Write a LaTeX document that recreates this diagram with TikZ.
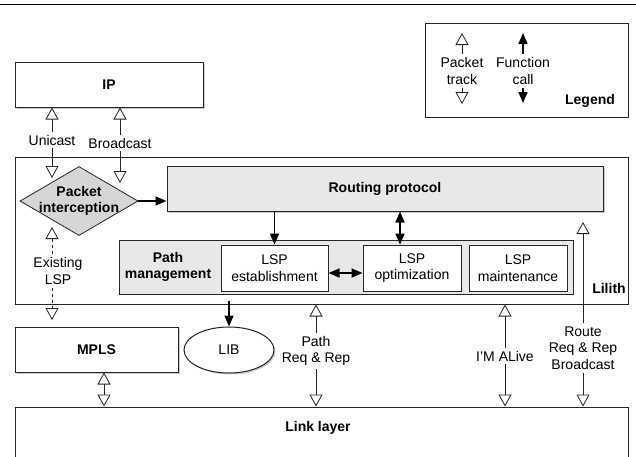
\documentclass[tikz,border=0pt]{standalone}
\usepackage{fontspec}
\setmainfont{Liberation Sans}
\usetikzlibrary{arrows.meta,shapes.geometric,shadows}
\begin{document}
\begin{tikzpicture}[x=1pt,y=-1pt,
  font=\fontsize{14}{16.5}\selectfont,
  bld/.style={font=\fontsize{14}{16.5}\selectfont\bfseries},
  box/.style={draw=black!85, line width=1pt, rectangle, inner sep=0pt},
  shad/.style={drop shadow={shadow xshift=1.5pt, shadow yshift=-1.5pt, opacity=0.35, fill=black!60}},
  lbl/.style={align=center, inner sep=3pt},
  pkt/.style={draw=black!85, line width=0.8pt, -{Triangle[open, length=12pt, width=13pt]}},
  pktb/.style={draw=black!85, line width=0.8pt, {Triangle[open, length=12pt, width=13pt]}-{Triangle[open, length=12pt, width=13pt]}},
  fn/.style={line width=1.6pt, -{Triangle[length=11pt, width=9pt]}},
  fnb/.style={line width=1.6pt, {Triangle[length=11pt, width=9pt]}-{Triangle[length=11pt, width=9pt]}},
]
\clip (0,0) rectangle (636,456);
\fill[white] (0,0) rectangle (636,456);
\coordinate (tl) at (0,4);
\coordinate (tr) at (636,4);
\draw[line width=1pt] (tl) -- (tr);

% IP
\node[box, shad, fill=white, minimum width=188pt, minimum height=45pt, bld] (ip) at (109,84.5) {IP};

% Legend
\node[box, fill=white, minimum width=203pt, minimum height=94pt] (leg) at (526.5,70) {};
\node[lbl] (ptrack) at (462,71) {Packet\\track};
\node[lbl] (fcall) at (523,71) {Function\\call};
\node[bld] (legt) at (590,101) {Legend};
\coordinate (pt1) at (462,33);
\coordinate (pt2) at (462,104);
\coordinate (fc1) at (523,33);
\coordinate (fc2) at (523,103);
\draw[pkt] (ptrack.north) -- (pt1);
\draw[pkt] (ptrack.south) -- (pt2);
\draw[fn] (fcall.north) -- (fc1);
\draw[fn] (fcall.south) -- (fc2);

% Lilith
\node[box, minimum width=613pt, minimum height=147pt] (lil) at (321.5,230.5) {};
\node[bld] (lilt) at (609,288) {Lilith};
\node[box, shad, fill=black!9, minimum width=436pt, minimum height=45pt, bld] (rp) at (385,188.5) {Routing protocol};
\node[diamond, draw=black!85, line width=0.8pt, fill=black!16, minimum width=118pt, minimum height=69pt, inner sep=0pt] (pi) at (79,201) {};
\node[lbl, bld, inner sep=0pt] (pit) at (79,201) {Packet\\interception};
\node[box, fill=black!9, minimum width=454pt, minimum height=54pt] (pm) at (346,267) {};
\node[lbl, bld, inner sep=0pt] (pmt) at (168,267) {Path\\management};
\node[box, fill=white, minimum width=107pt, minimum height=46pt, align=center] (est) at (274.5,268) {LSP\\establishment};
\node[box, fill=white, minimum width=98pt, minimum height=46pt, align=center] (opt) at (412,268) {LSP\\optimization};
\node[box, fill=white, minimum width=98pt, minimum height=46pt, align=center] (mnt) at (518,268) {LSP\\maintenance};

% MPLS, LIB, Link layer
\node[box, shad, fill=white, minimum width=163pt, minimum height=45pt, bld] (mpls) at (96.5,349.5) {MPLS};
\node[ellipse, draw=black!85, line width=1pt, fill=white, shad, minimum width=90pt, minimum height=46pt, inner sep=0pt] (lib) at (229,350) {LIB};
\node[box, fill=white, minimum width=613pt, minimum height=100pt] (link) at (321.5,457) {};
\node[bld] (linkt) at (318,428) {Link layer};

% labels
\node[lbl] (uni) at (52,140) {Unicast};
\node[lbl] (bro) at (120,143) {Broadcast};
\node[lbl] (exl) at (58,271) {Existing\\LSP};
\node[lbl] (preq) at (316,351) {Path\\Req \& Rep};
\node[lbl] (alive) at (505,356) {I'M ALive};
\node[lbl] (rreq) at (583,348) {Route\\Req \& Rep\\Broadcast};

% packet tracks
\coordinate (uend) at (52,178);
\coordinate (bend) at (120,183);
\draw[pkt] (uni.north) -- (uni.north |- ip.south);
\draw[pkt] (uni.south) -- (uend);
\draw[pkt] (bro.north) -- (bro.north |- ip.south);
\draw[pkt] (bro.south) -- (bend);
\coordinate (e1) at (52,227);
\coordinate (e2) at (52,320);
\draw[pkt, dashed] ([xshift=-6pt]exl.north) -- (e1);
\draw[pkt, dashed] ([xshift=-6pt]exl.south) -- (e2);
\draw[pktb] ([xshift=7.5pt]mpls.south) -- ([xshift=7.5pt]mpls.south |- link.north);
\draw[pkt] (preq.north) -- (preq.north |- lil.south);
\draw[pkt] (preq.south) -- (preq.south |- link.north);
\draw[pkt] (alive.north) -- (alive.north |- lil.south);
\draw[pkt] (alive.south) -- (alive.south |- link.north);
\coordinate (rtop) at (583,222);
\draw[pkt] (rreq.north) -- (rtop);
\draw[pkt] (rreq.south) -- (rreq.south |- link.north);

% function calls
\coordinate (oa) at ([xshift=-12pt]opt.north);
\draw[fn] (pi.east) -- (pi.east -| rp.west);
\draw[fn] (est.north |- rp.south) -- (est.north);
\draw[fnb] (oa |- rp.south) -- (oa);
\draw[fnb] ([yshift=-5pt]est.east) -- ([yshift=-5pt]opt.west);
\draw[fn, shorten <=6pt] (lib.north |- pm.south) -- (lib.north);
\end{tikzpicture}
\end{document}
